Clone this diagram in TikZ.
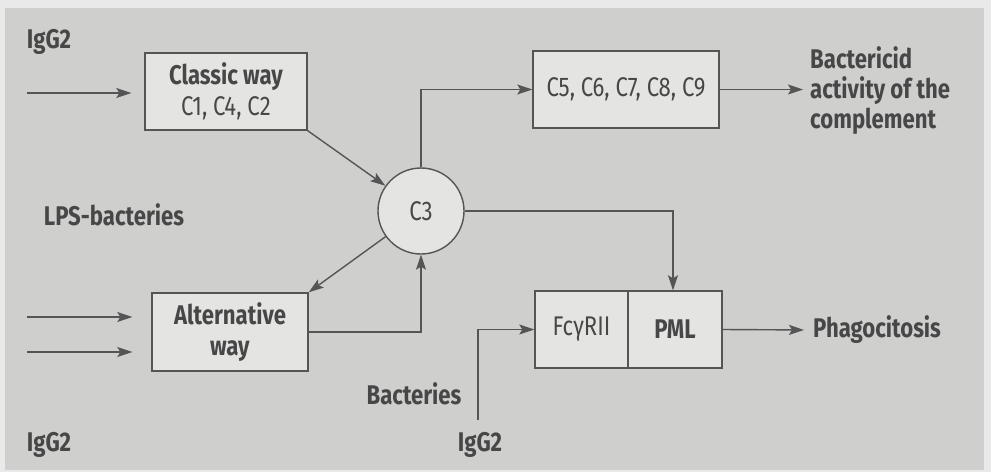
\documentclass[tikz,border=0pt]{standalone}
\usepackage{fontspec}
\setmainfont{Fira Sans}[FakeStretch=0.82]
\usetikzlibrary{arrows.meta}
\definecolor{outerbg}{HTML}{E9E9E9}
\definecolor{panel}{HTML}{CFD0CE}
\definecolor{boxfill}{HTML}{E4E5E3}
\definecolor{ink}{HTML}{474747}
\definecolor{linec}{HTML}{555555}
\begin{document}
\begin{tikzpicture}[x=1pt,y=-1pt,
  every node/.style={text=ink},
  lbl/.style={font=\fontsize{27}{31}\selectfont\bfseries, inner sep=0pt},
  stepbox/.style={draw=linec, line width=1.4pt, fill=boxfill, inner sep=0pt,
     font=\fontsize{27}{31}\selectfont, align=center},
  ring/.style={draw=linec, line width=1.4pt, fill=boxfill, circle, inner sep=0pt,
     minimum size=86pt, font=\fontsize{27}{31}\selectfont},
  conn/.style={draw=linec, line width=1.4pt},
  arr/.style={conn, -{Stealth[length=15pt,width=10pt,inset=3pt]}}
]
\useasboundingbox (0,0) rectangle (991,472);
\fill[outerbg] (0,0) rectangle (991,472);
\fill[panel] (5,8) rectangle (984,470);

% nodes
\node[lbl] (igA) at (49,42) {IgG2};
\node[lbl] (lps) at (114,215) {LPS-bacteries};
\node[lbl] (igB) at (49,445) {IgG2};
\node[lbl] (igC) at (480,445) {IgG2};
\node[lbl] (bacts) at (414,394) {Bacteries};

\node[stepbox, minimum width=162pt, minimum height=77pt] (classic) at (226,91.5)
  {\textbf{Classic way}\\C1, C4, C2};
\node[ring] (c3) at (421,211) {C3};
\node[stepbox, minimum width=186pt, minimum height=77pt] (c59) at (626,89.5)
  {C5, C6, C7, C8, C9};
\node[stepbox, minimum width=156pt, minimum height=78pt] (alt) at (230,332)
  {\textbf{Alternative}\\\textbf{way}};
\node[stepbox, minimum width=93pt, minimum height=77pt] (fcr) at (581.5,329.5)
  {FcγRII};
\node[stepbox, minimum width=94pt, minimum height=77pt] (pml) at (675,329.5)
  {\textbf{PML}};

\node[lbl, anchor=west, align=left, font=\fontsize{27}{30}\selectfont\bfseries] (bact) at (810,91)
  {Bactericid\\activity of the\\complement};
\node[lbl, anchor=west] (phago) at (813,330) {Phagocitosis};

% free ends
\coordinate (inA) at (27,93);
\coordinate (inB) at (27,317);
\coordinate (inC) at (27,352);
\coordinate (inD) at (478,420);

% connectors
\draw[arr, shorten >=13pt] (inA) -- (inA -| classic.west);
\draw[arr, shorten >=19pt] (inB) -- (inB -| alt.west);
\draw[arr, shorten >=19pt] (inC) -- (inC -| alt.west);
\draw[arr] (classic.south east) -- (c3);
\draw[arr] (c3.north) |- (c59.west);
\draw[arr, shorten >=7pt] (c59.east) -- (c59.east -| bact.west);
\draw[arr] (c3.east) -| ([xshift=-2pt]pml.north);
\draw[arr] (c3) -- (alt.north east);
\draw[arr] (alt.east) -| (c3.south);
\draw[arr] (inD) |- (fcr.west);
\draw[arr, shorten >=9pt] (pml.east) -- (phago.west);
\end{tikzpicture}
\end{document}
